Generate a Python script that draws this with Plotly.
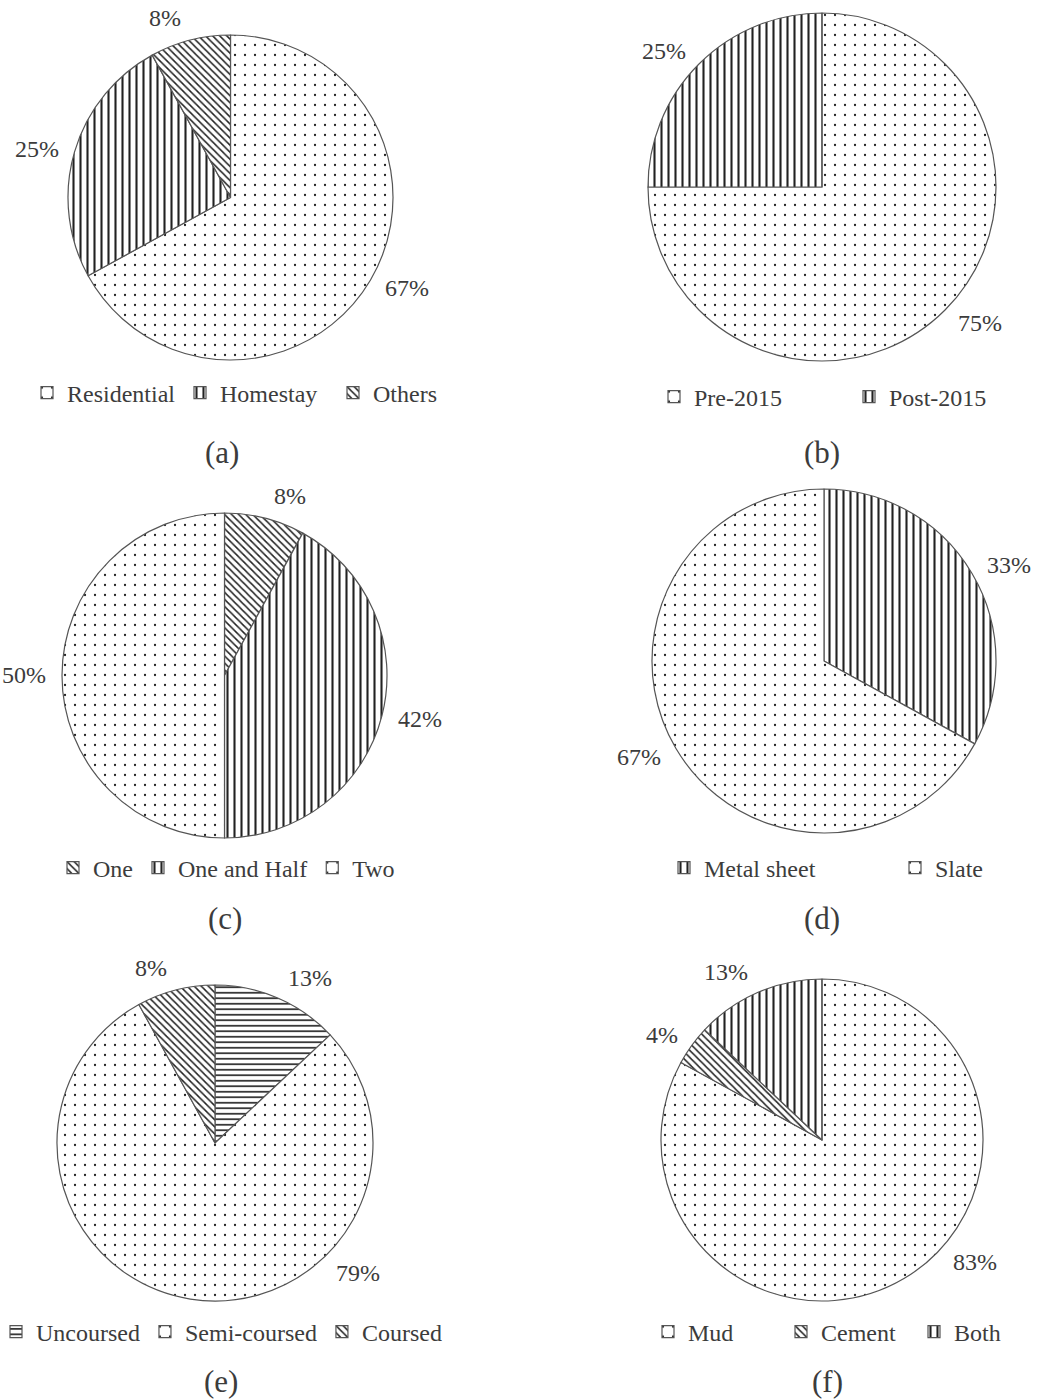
import math
import plotly.graph_objects as go

# Survey breakdowns, one pie per panel (values in %)
a_labels = ["Residential", "Homestay", "Others"]
a_values = [67, 25, 8]

b_labels = ["Pre-2015", "Post-2015"]
b_values = [75, 25]

c_labels = ["One", "One and Half", "Two"]
c_values = [8, 42, 50]

d_labels = ["Metal sheet", "Slate"]
d_values = [33, 67]

e_labels = ["Uncoursed", "Semi-coursed", "Coursed"]
e_values = [13, 79, 8]

f_labels = ["Mud", "Cement", "Both"]
f_values = [83, 4, 13]

captions = ["(a)", "(b)", "(c)", "(d)", "(e)", "(f)"]

W, H = 1041, 1400
FONT = "Liberation Serif"
TXT = "#3c3c3c"
FS = 24

# fill pattern for each category
PATTERNS = {
    "Residential": ".", "Homestay": "|", "Others": "\\",
    "Pre-2015": ".", "Post-2015": "|",
    "One": "\\", "One and Half": "|", "Two": ".",
    "Metal sheet": "|", "Slate": ".",
    "Uncoursed": "-", "Semi-coursed": ".", "Coursed": "\\",
    "Mud": ".", "Cement": "\\", "Both": "|",
}
SIZES = {".": 10, "|": 7, "\\": 5, "-": 5.5}
SOLID = {".": 0.04, "|": 0.3, "\\": 0.3, "-": 0.3}

# large slices whose percentage label sits at a set angle
# (degrees clockwise from 12 o'clock) instead of the slice middle
LABEL_ANGLE = {"Semi-coursed": 137, "Mud": 133}
LABEL_GAP = 9  # px between rim and label anchor


def text_width(s):
    # rough advance widths of the serif face, in em
    return sum(0.833 if ch == "%" else 0.5 for ch in s) * FS


panels = [
    (a_labels, a_values, (68, 393, 35, 360), "legend"),
    (b_labels, b_values, (648, 996, 13, 361), "legend2"),
    (c_labels, c_values, (62, 387, 513, 838), "legend3"),
    (d_labels, d_values, (652, 996, 489, 833), "legend4"),
    (e_labels, e_values, (57, 373, 985, 1301), "legend5"),
    (f_labels, f_values, (661, 983, 979, 1301), "legend6"),
]

fig = go.Figure()
for labels, values, (x0, x1, y0, y1), leg in panels:
    shapes = [PATTERNS[l] for l in labels]
    fig.add_trace(go.Pie(
        labels=labels, values=values, legend=leg,
        domain=dict(x=[x0 / W, x1 / W], y=[1 - y1 / H, 1 - y0 / H]),
        sort=False, direction="clockwise", rotation=0,
        textinfo="none",
        marker=dict(
            colors=["white"] * len(labels),
            line=dict(color="#555555", width=1.2),
            pattern=dict(
                shape=shapes,
                size=[SIZES[s] for s in shapes],
                solidity=[SOLID[s] for s in shapes],
                fgcolor="#222222", bgcolor="white", fillmode="replace",
            ),
        ),
        hoverinfo="label+percent",
    ))

    # percentage labels just outside the rim, in the direction of each slice
    cx, cy = (x0 + x1) / 2, (y0 + y1) / 2
    r = (x1 - x0) / 2
    total = sum(values)
    start = 0.0
    for l, v in zip(labels, values):
        mid = (start + v / 2) / total * 360
        start += v
        ang = LABEL_ANGLE.get(l, mid)
        th = math.radians(ang)
        ux, uy = math.sin(th), -math.cos(th)
        text = f"{v}%"
        tw, th_px = text_width(text), FS * 1.15
        sx = 1 if ux >= 0 else -1
        sy = 1 if uy >= 0 else -1
        tx = cx + ux * (r + LABEL_GAP) + sx * (tw / 2 + th_px / 4)
        ty = cy + uy * (r + LABEL_GAP) + sy * (th_px / 2) * uy * uy
        fig.add_annotation(
            text=text, x=tx / W, y=1 - ty / H, xref="paper", yref="paper",
            showarrow=False, xanchor="center", yanchor="middle",
            font=dict(family=FONT, size=FS, color=TXT),
        )

legend_font = dict(family=FONT, size=FS, color=TXT)


def legend_at(xpx, ypx, entrywidth=None):
    d = dict(
        x=xpx / W, y=1 - ypx / H, xanchor="left", yanchor="middle",
        orientation="h", font=legend_font, bgcolor="rgba(0,0,0,0)",
        itemwidth=30, traceorder="normal",
    )
    if entrywidth is not None:
        d["entrywidth"] = entrywidth
        d["entrywidthmode"] = "pixels"
    return d


fig.update_layout(
    width=W, height=H,
    margin=dict(l=0, r=0, t=0, b=0, autoexpand=False),
    paper_bgcolor="white", plot_bgcolor="white",
    legend=legend_at(27, 393, 108),
    legend2=legend_at(654, 397, 150),
    legend3=legend_at(53, 868),
    legend4=legend_at(664, 868, 186),
    legend5=legend_at(-4, 1332),
    legend6=legend_at(648, 1332, 88),
)

cap_pos = [(222, 452), (822, 452), (225, 918), (822, 918), (221, 1381), (827, 1381)]
for text, (cx, cy) in zip(captions, cap_pos):
    fig.add_annotation(
        text=text, x=cx / W, y=1 - cy / H, xref="paper", yref="paper",
        showarrow=False, xanchor="center", yanchor="middle",
        font=dict(family=FONT, size=31, color=TXT),
    )

fig.write_html("out.html")
